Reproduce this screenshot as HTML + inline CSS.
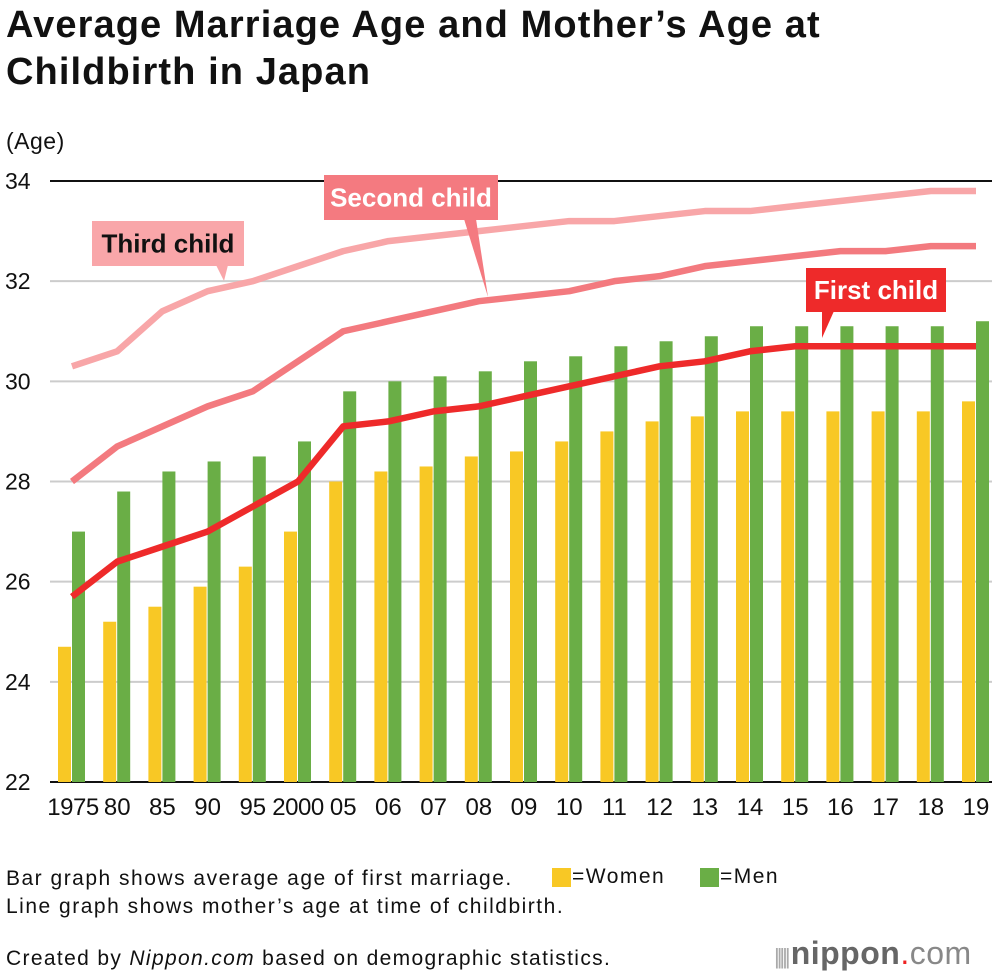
<!DOCTYPE html>
<html><head><meta charset="utf-8">
<style>
body{margin:0;background:#fff;font-family:"Liberation Sans",sans-serif;}
#wrap{position:relative;width:1000px;height:976px;overflow:hidden;}
.t{position:absolute;color:#111;white-space:nowrap;}
</style></head>
<body>
<div id="wrap">
<div class="t" style="left:6px;top:2px;font-size:38px;font-weight:bold;line-height:47px;letter-spacing:1.1px;">Average Marriage Age and Mother’s Age at<br>Childbirth in Japan</div>
<div class="t" style="left:6px;top:128px;font-size:23px;letter-spacing:0.5px;">(Age)</div>
<svg id="chart" width="1000" height="830" style="position:absolute;left:0;top:0" xmlns="http://www.w3.org/2000/svg"></svg>
<div class="t" style="left:6px;top:865px;font-size:21px;line-height:28px;letter-spacing:1.5px;">Bar graph shows average age of first marriage.<br>Line graph shows mother’s age at time of childbirth.</div>
<div style="position:absolute;left:552px;top:868px;width:19px;height:19px;background:#f8c825"></div>
<div class="t" style="left:572px;top:865px;font-size:21px;letter-spacing:1.5px;">=Women</div>
<div style="position:absolute;left:700px;top:868px;width:19px;height:19px;background:#6aae46"></div>
<div class="t" style="left:720px;top:865px;font-size:21px;letter-spacing:1.5px;">=Men</div>
<div class="t" style="left:6px;top:947px;font-size:21px;letter-spacing:1.35px;">Created by <i>Nippon.com</i> based on demographic statistics.</div>
<div class="t" style="left:774px;top:935px;font-size:32px;color:#666;letter-spacing:0.5px;"><span style="color:#aaa;font-size:22px;letter-spacing:-3px;">||||| </span><b>nippon</b><span style="color:#e22">.</span><span style="color:#888">com</span></div>
</div>
<script>
const categories=["1975","80","85","90","95","2000","05","06","07","08","09","10","11","12","13","14","15","16","17","18","19"];
const women=[24.7,25.2,25.5,25.9,26.3,27.0,28.0,28.2,28.3,28.5,28.6,28.8,29.0,29.2,29.3,29.4,29.4,29.4,29.4,29.4,29.6];
const men=[27.0,27.8,28.2,28.4,28.5,28.8,29.8,30.0,30.1,30.2,30.4,30.5,30.7,30.8,30.9,31.1,31.1,31.1,31.1,31.1,31.2];
const firstChild=[25.7,26.4,26.7,27.0,27.5,28.0,29.1,29.2,29.4,29.5,29.7,29.9,30.1,30.3,30.4,30.6,30.7,30.7,30.7,30.7,30.7];
const secondChild=[28.0,28.7,29.1,29.5,29.8,30.4,31.0,31.2,31.4,31.6,31.7,31.8,32.0,32.1,32.3,32.4,32.5,32.6,32.6,32.7,32.7];
const thirdChild=[30.3,30.6,31.4,31.8,32.0,32.3,32.6,32.8,32.9,33.0,33.1,33.2,33.2,33.3,33.4,33.4,33.5,33.6,33.7,33.8,33.8];
const yTicks=[22,24,26,28,30,32,34];

const svg=document.getElementById('chart');
const NS='http://www.w3.org/2000/svg';
function y(v){return 782-(v-22)*(601/12);}
function x(i){return 72+i*45.2;}
function mk(tag,attrs){const e=document.createElementNS(NS,tag);for(const k in attrs)e.setAttribute(k,attrs[k]);svg.appendChild(e);return e;}

yTicks.forEach(t=>{
  const l=mk('line',{x1:50,x2:992,y1:y(t),y2:y(t),stroke:(t===34||t===22)?'#111':'#ccc','stroke-width':2});
  
  
  const tx=mk('text',{x:5,y:y(t)+8,'font-size':23,fill:'#111','font-family':'Liberation Sans, sans-serif'});
  tx.textContent=t;
  
  
});
categories.forEach((c,i)=>{
  const bw=mk('rect',{x:x(i)-14,y:y(women[i]),width:13,height:782-y(women[i]),fill:'#f8c825'});
  
  
  const bm=mk('rect',{x:x(i),y:y(men[i]),width:13,height:782-y(men[i]),fill:'#6aae46'});
  
  
  const tx=mk('text',{x:x(i)+(i===0?1:0),y:815,'font-size':24,fill:'#111','text-anchor':'middle','font-family':'Liberation Sans, sans-serif','letter-spacing':c.length>2?'-0.5':'0'});
  tx.textContent=c;
  
  
});
function line(arr,color,name){
  const p=mk('polyline',{points:arr.map((v,i)=>x(i)+','+y(v)).join(' '),fill:'none',stroke:color,'stroke-width':6.5,'stroke-linejoin':'round'});
  
  
}
line(thirdChild,'#f8a6a8','line-third-child');
line(secondChild,'#f37a7f','line-second-child');
line(firstChild,'#ee2a2a','line-first-child');

function callout(bx,by,bw,bh,px,py,tipx,fill,txt,tcol,name){
  const g=document.createElementNS(NS,'g');svg.appendChild(g);
  
  
  const r=document.createElementNS(NS,'rect');
  r.setAttribute('x',bx);r.setAttribute('y',by);r.setAttribute('width',bw);r.setAttribute('height',bh);r.setAttribute('fill',fill);g.appendChild(r);
  const pg=document.createElementNS(NS,'polygon');
  pg.setAttribute('points',(tipx-6)+','+(by+bh-1)+' '+(tipx+6)+','+(by+bh-1)+' '+px+','+py);pg.setAttribute('fill',fill);g.appendChild(pg);
  const t=document.createElementNS(NS,'text');
  t.setAttribute('x',bx+bw/2);t.setAttribute('y',by+bh/2+9);t.setAttribute('text-anchor','middle');
  t.setAttribute('font-size',26);t.setAttribute('font-weight','bold');t.setAttribute('fill',tcol);
  t.setAttribute('font-family','Liberation Sans Narrow, Liberation Sans, sans-serif');
  t.textContent=txt;g.appendChild(t);
}
callout(92,221,152,45,224,281,222,'#f9a6a9','Third child','#111','callout-third-child');
callout(324,175,174,45,488,297,470,'#f47a80','Second child','#fff','callout-second-child');
callout(806,268,140,44,822,338,828,'#ee2a2a','First child','#fff','callout-first-child');
</script>
</body></html>
